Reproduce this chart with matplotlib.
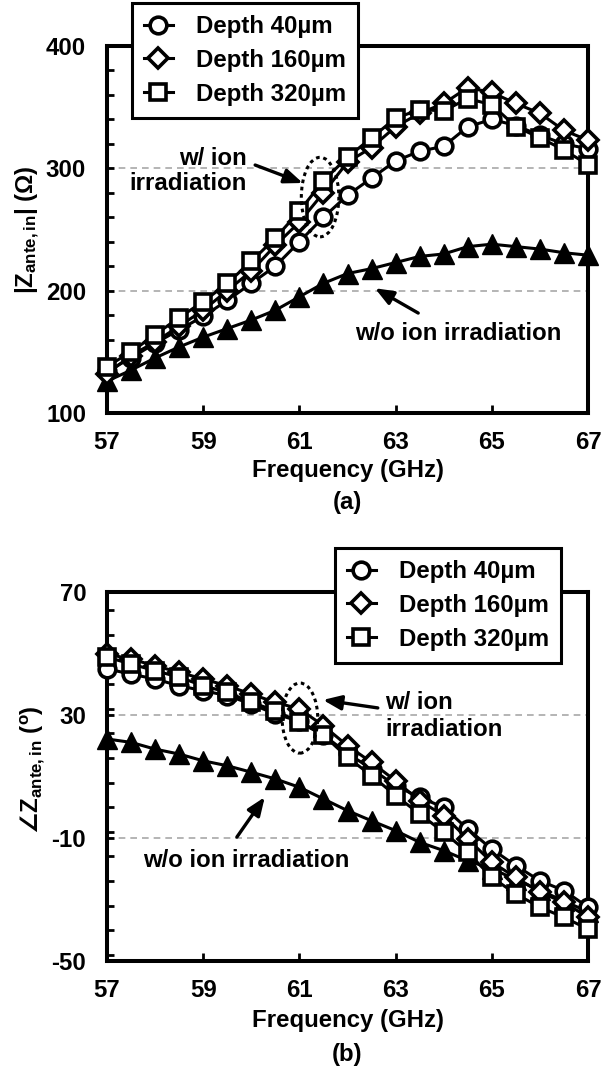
import matplotlib
matplotlib.use("Agg")
import matplotlib.pyplot as plt
from matplotlib.patches import Ellipse
from matplotlib.ticker import MultipleLocator

plt.rcParams["font.family"] = ["Liberation Sans", "DejaVu Sans"]
plt.rcParams["font.weight"] = "bold"
plt.rcParams["axes.unicode_minus"] = False
plt.rcParams["mathtext.fontset"] = "custom"
plt.rcParams["mathtext.rm"] = "Liberation Sans:bold"
plt.rcParams["mathtext.it"] = "Liberation Sans:bold"
plt.rcParams["mathtext.bf"] = "Liberation Sans:bold"
plt.rcParams["mathtext.sf"] = "DejaVu Sans:bold"
plt.rcParams["mathtext.fallback"] = "stixsans"

# Frequency sweep (GHz)
freq = [57.0, 57.5, 58.0, 58.5, 59.0, 59.5, 60.0, 60.5, 61.0, 61.5, 62.0,
        62.5, 63.0, 63.5, 64.0, 64.5, 65.0, 65.5, 66.0, 66.5, 67.0]

# |Z_ante,in| (Ohm)
mag_d40 = [134, 145, 157, 168, 179, 192, 206, 220, 240, 260, 278,
           292, 306, 314, 318, 334, 340, 335, 327, 320, 316]
mag_d160 = [132, 147, 158, 171, 184, 200, 216, 237, 256, 280, 305,
            317, 334, 345, 353, 366, 362, 353, 345, 331, 323]
mag_d320 = [138, 150, 164, 178, 191, 206, 224, 243, 265, 290, 309,
            325, 341, 348, 347, 357, 352, 334, 325, 315, 303]
mag_none = [126, 135, 145, 154, 162, 169, 176, 184, 195, 206, 214,
            218, 223, 228, 230, 236, 238, 236, 234, 231, 229]

# Phase of Z_ante,in (deg)
ph_d40 = [45.0, 43.3, 41.7, 39.5, 37.9, 36.3, 33.6, 30.3, 28.0, 23.5, 17.5,
          12.5, 7.0, 3.2, 0.0, -7.1, -13.6, -19.0, -23.9, -27.1, -32.5]
ph_d160 = [49.8, 48.2, 46.0, 43.9, 41.7, 39.5, 36.8, 34.1, 32.0, 26.5, 20.0,
           14.6, 8.6, 2.1, -2.7, -10.3, -17.9, -22.8, -27.7, -30.9, -35.8]
ph_d320 = [48.8, 46.6, 44.4, 42.3, 39.5, 37.4, 34.1, 31.4, 27.6, 23.5, 16.2,
           10.3, 3.8, -2.2, -8.1, -14.7, -22.8, -28.2, -32.5, -35.8, -39.6]
ph_none = [22.2, 21.1, 18.9, 17.3, 15.1, 13.5, 11.4, 9.2, 6.5, 2.7, -1.1,
           -4.4, -7.6, -11.4, -14.1, -17.4, -20.0, -23.5, -27.0, -30.5, -34.0]

depth_labels = ["Depth 40µm", "Depth 160µm", "Depth 320µm"]
x_ticks = [57, 59, 61, 63, 65, 67]

FS = 17.3
W, H = 603, 1072
fig = plt.figure(figsize=(W / 100, H / 100), dpi=100)


def px_axes(l, t, r, b):
    return fig.add_axes([l / W, 1 - b / H, (r - l) / W, (b - t) / H])


def draw_panel(ax, none, d40, d160, d320):
    ax.plot(freq, none, color="k", lw=2.2, marker="^", ms=15, mfc="k",
            mec="k", mew=1, clip_on=False, zorder=3)
    handles = []
    specs = [("o", 12), ("D", 10.5), ("s", 12)]
    for i, (vals, lab, (m, ms)) in enumerate(zip([d40, d160, d320],
                                                 depth_labels, specs)):
        h, = ax.plot(freq, vals, color="k", lw=2.2, marker=m, ms=ms,
                     mfc="white", mec="k", mew=2.6, clip_on=False,
                     label=lab, zorder=4 + i)
        handles.append(h)
    ax.set_xlim(57, 67)
    ax.set_xticks(x_ticks)
    for s in ax.spines.values():
        s.set_linewidth(2.9)
    ax.tick_params(axis="both", which="both", direction="in", width=2,
                   labelsize=FS, top=False, right=False)
    ax.tick_params(axis="x", which="major", length=6, pad=13)
    ax.tick_params(axis="y", which="major", length=5, pad=15)
    ax.tick_params(axis="y", which="minor", length=5)
    return handles


def add_legend(ax, handles, x0, y0):
    leg = ax.legend(handles=handles, loc="upper left",
                    bbox_to_anchor=(x0 / W, 1 - y0 / H),
                    bbox_transform=fig.transFigure, borderaxespad=0,
                    fontsize=FS, frameon=True, fancybox=False,
                    edgecolor="k", framealpha=1, borderpad=0.5,
                    handlelength=1.2, handletextpad=0.95, labelspacing=0.45,
                    numpoints=1)
    leg.get_frame().set_linewidth(2.2)
    leg.set_zorder(20)


arrow_kw = dict(arrowstyle="-|>,head_length=0.55,head_width=0.22", lw=2.4,
                color="k", shrinkA=0, shrinkB=0, mutation_scale=20)
dash_kw = dict(color="#a8a8a8", lw=1.2, ls=(0, (4, 3)), zorder=1)

# (a) magnitude
ax1 = px_axes(107, 46, 588, 413)
h1 = draw_panel(ax1, mag_none, mag_d40, mag_d160, mag_d320)
ax1.set_ylim(100, 400)
ax1.set_yticks([100, 200, 300, 400])
ax1.yaxis.set_minor_locator(MultipleLocator(20))
for v in (200, 300):
    ax1.axhline(v, **dash_kw)
add_legend(ax1, h1, 132, 3)
ax1.add_patch(Ellipse((61.43, 276.5), width=0.78, height=65, fill=False,
                      ec="k", lw=2.2, ls=(0, (1.2, 1.2)), zorder=9,
                      clip_on=False))
ax1.text(59.91, 308.4, "w/ ion", ha="right", va="center", fontsize=FS)
ax1.text(59.91, 288.0, "irradiation", ha="right", va="center", fontsize=FS)
ax1.annotate("", xy=(61.07, 288.0), xytext=(60.08, 302.7),
             arrowprops=arrow_kw, zorder=10)
ax1.text(62.16, 165.3, "w/o ion irradiation", ha="left", va="center",
         fontsize=FS)
ax1.annotate("", xy=(62.57, 202.0), xytext=(63.47, 181.7),
             arrowprops=arrow_kw, zorder=10)

# (b) phase
ax2 = px_axes(107, 592, 588, 961)
h2 = draw_panel(ax2, ph_none, ph_d40, ph_d160, ph_d320)
ax2.set_ylim(-50, 70)
ax2.set_yticks([-50, -10, 30, 70])
ax2.yaxis.set_minor_locator(MultipleLocator(8))
for v in (-10, 30):
    ax2.axhline(v, **dash_kw)
add_legend(ax2, h2, 335, 548)
ax2.add_patch(Ellipse((61.01, 29.0), width=0.74, height=22.8, fill=False,
                      ec="k", lw=2.2, ls=(0, (1.2, 1.2)), zorder=9,
                      clip_on=False))
ax2.text(62.78, 34.2, "w/ ion", ha="left", va="center", fontsize=FS)
ax2.text(62.78, 25.4, "irradiation", ha="left", va="center", fontsize=FS)
ax2.annotate("", xy=(61.49, 34.9), xytext=(62.63, 32.3),
             arrowprops=arrow_kw, zorder=10)
ax2.text(57.75, -17.2, "w/o ion irradiation", ha="left", va="center",
         fontsize=FS)
ax2.annotate("", xy=(60.28, 3.3), xytext=(59.70, -9.7),
             arrowprops=arrow_kw, zorder=10)

# axis titles and panel tags
cx = (107 + 588) / 2 / W
fig.text(28 / W, 1 - 230 / H, r"|Z$_{\rm ante,in}$| (Ω)", rotation=90,
         ha="center", va="center", fontsize=FS)
fig.text(33 / W, 1 - 770 / H,
         r"$\mathsf{\angle}$Z$_{\rm ante,in}$ ($^{\rm o}$)",
         rotation=90, ha="center", va="center", fontsize=FS)

fig.text(cx, 1 - 470 / H, "Frequency (GHz)", ha="center", va="center",
         fontsize=FS)
fig.text(cx, 1 - 1020 / H, "Frequency (GHz)", ha="center", va="center",
         fontsize=FS)
fig.text(cx, 1 - 503 / H, "(a)", ha="center", va="center", fontsize=FS)
fig.text(cx, 1 - 1055 / H, "(b)", ha="center", va="center", fontsize=FS)

fig.savefig("out.png", dpi=100, facecolor="white")
